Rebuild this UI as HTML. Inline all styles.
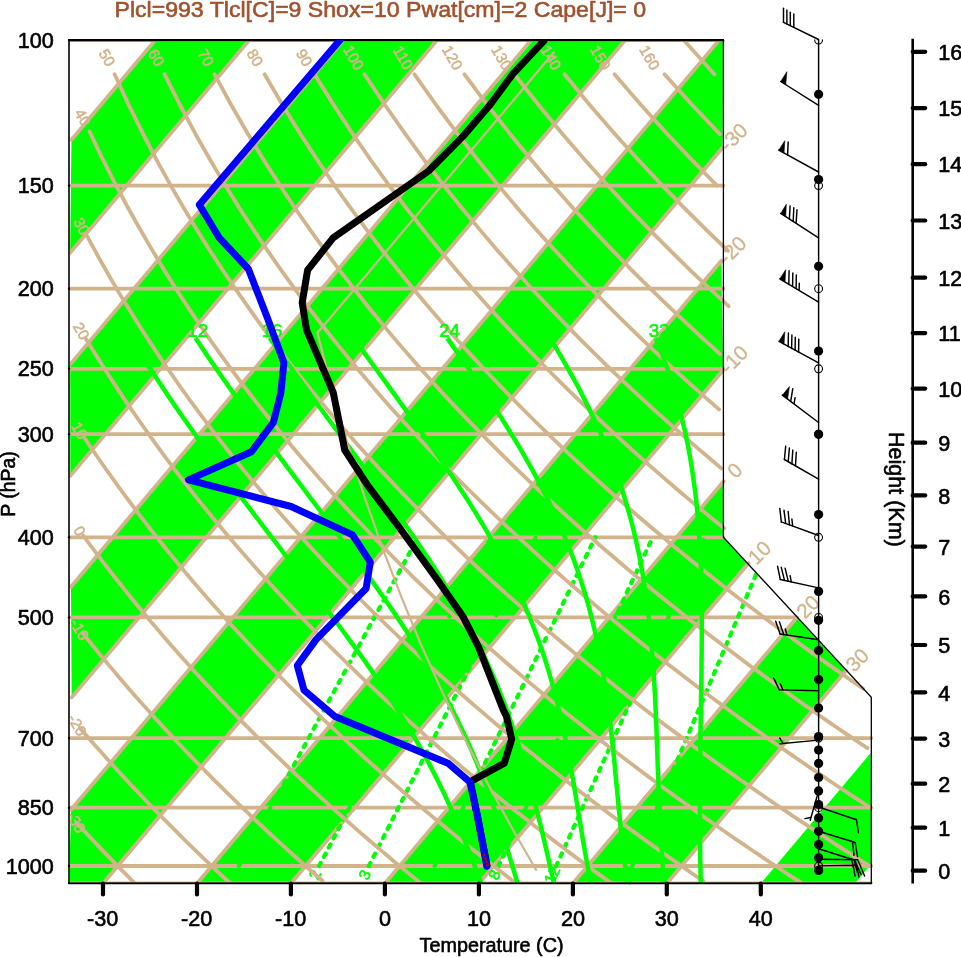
<!DOCTYPE html>
<html><head><meta charset="utf-8"><title>Skew-T</title>
<style>html,body{margin:0;padding:0;background:#fff}svg{display:block}text{font-family:"Liberation Sans",sans-serif}</style>
</head><body>
<svg width="961" height="957" viewBox="0 0 961 957">
<rect width="961" height="957" fill="#fff"/>
<defs><clipPath id="c"><polygon points="69.0,883.5 69.0,40.1 723.4,40.1 723.4,537.3 871.3,697.3 871.3,883.5 69.0,883.5"/></clipPath></defs>
<defs><clipPath id="v"><rect x="69.0" y="40.1" width="804.4" height="843.4"/></clipPath></defs>
<g clip-path="url(#c)">
<polygon points="71.5,139.7 155.3,40.1 249.3,40.1 70.1,252.9" fill="#00ff00"/>
<polygon points="70.2,364.4 343.3,40.1 437.2,40.1 70.3,475.9" fill="#00ff00"/>
<polygon points="71.0,586.7 531.2,40.1 625.2,40.1 71.7,697.4" fill="#00ff00"/>
<polygon points="71.0,809.8 719.2,40.1 723.4,40.1 722.5,147.8 103.0,883.5 69.0,883.5" fill="#00ff00"/>
<polygon points="197.0,883.5 721.3,260.8 723.1,370.2 290.9,883.5" fill="#00ff00"/>
<polygon points="384.9,883.5 723.7,481.2 723.4,537.3 748.5,563.3 478.9,883.5" fill="#00ff00"/>
<polygon points="572.9,883.5 796.9,617.4 846.1,670.6 666.8,883.5" fill="#00ff00"/>
<polygon points="760.8,883.5 870.6,753.1 871.6,863.5 854.8,883.5" fill="#00ff00"/>
</g>
<polyline points="71.5,139.7 155.3,40.1" fill="none" stroke="#d2b48c" stroke-width="3.8" stroke-linecap="round" clip-path="url(#v)"/>
<polyline points="70.1,252.9 249.3,40.1" fill="none" stroke="#d2b48c" stroke-width="3.8" stroke-linecap="round" clip-path="url(#v)"/>
<polyline points="70.2,364.4 343.3,40.1" fill="none" stroke="#d2b48c" stroke-width="3.8" stroke-linecap="round" clip-path="url(#v)"/>
<polyline points="70.3,475.9 437.2,40.1" fill="none" stroke="#d2b48c" stroke-width="3.8" stroke-linecap="round" clip-path="url(#v)"/>
<polyline points="71.0,586.7 531.2,40.1" fill="none" stroke="#d2b48c" stroke-width="3.8" stroke-linecap="round" clip-path="url(#v)"/>
<polyline points="71.7,697.4 625.2,40.1" fill="none" stroke="#d2b48c" stroke-width="3.8" stroke-linecap="round" clip-path="url(#v)"/>
<polyline points="71.0,809.8 719.2,40.1" fill="none" stroke="#d2b48c" stroke-width="3.8" stroke-linecap="round" clip-path="url(#v)"/>
<polyline points="103.0,883.5 722.5,147.8" fill="none" stroke="#d2b48c" stroke-width="3.8" stroke-linecap="round" clip-path="url(#v)"/>
<text x="733.4" y="144.2" font-size="20.5" fill="#d2b48c" text-anchor="middle" transform="rotate(-45.0 733.4 136.9)"  stroke="#d2b48c" stroke-width="0.3" stroke-linejoin="round">-30</text>
<polyline points="197.0,883.5 721.3,260.8" fill="none" stroke="#d2b48c" stroke-width="3.8" stroke-linecap="round" clip-path="url(#v)"/>
<text x="732.2" y="257.2" font-size="20.5" fill="#d2b48c" text-anchor="middle" transform="rotate(-45.0 732.2 249.9)"  stroke="#d2b48c" stroke-width="0.3" stroke-linejoin="round">-20</text>
<polyline points="290.9,883.5 723.1,370.2" fill="none" stroke="#d2b48c" stroke-width="3.8" stroke-linecap="round" clip-path="url(#v)"/>
<text x="734.0" y="366.6" font-size="20.5" fill="#d2b48c" text-anchor="middle" transform="rotate(-45.0 734.0 359.3)"  stroke="#d2b48c" stroke-width="0.3" stroke-linejoin="round">-10</text>
<polyline points="384.9,883.5 723.7,481.2" fill="none" stroke="#d2b48c" stroke-width="3.8" stroke-linecap="round" clip-path="url(#v)"/>
<text x="734.6" y="477.6" font-size="20.5" fill="#d2b48c" text-anchor="middle" transform="rotate(-45.0 734.6 470.3)"  stroke="#d2b48c" stroke-width="0.3" stroke-linejoin="round">0</text>
<polyline points="478.9,883.5 748.5,563.3" fill="none" stroke="#d2b48c" stroke-width="3.8" stroke-linecap="round" clip-path="url(#v)"/>
<text x="759.4" y="559.7" font-size="20.5" fill="#d2b48c" text-anchor="middle" transform="rotate(-45.0 759.4 552.4)"  stroke="#d2b48c" stroke-width="0.3" stroke-linejoin="round">10</text>
<polyline points="572.9,883.5 796.9,617.4" fill="none" stroke="#d2b48c" stroke-width="3.8" stroke-linecap="round" clip-path="url(#v)"/>
<text x="807.8" y="613.8" font-size="20.5" fill="#d2b48c" text-anchor="middle" transform="rotate(-45.0 807.8 606.5)"  stroke="#d2b48c" stroke-width="0.3" stroke-linejoin="round">20</text>
<polyline points="666.8,883.5 846.1,670.6" fill="none" stroke="#d2b48c" stroke-width="3.8" stroke-linecap="round" clip-path="url(#v)"/>
<text x="857.0" y="667.1" font-size="20.5" fill="#d2b48c" text-anchor="middle" transform="rotate(-45.0 857.0 659.7)"  stroke="#d2b48c" stroke-width="0.3" stroke-linejoin="round">30</text>
<polyline points="69.0,883.5 871.3,883.5" fill="none" stroke="#d2b48c" stroke-width="3.8" stroke-linecap="round" clip-path="url(#v)"/>
<polyline points="69.0,866.0 871.3,866.0" fill="none" stroke="#d2b48c" stroke-width="3.8" stroke-linecap="round" clip-path="url(#v)"/>
<polyline points="69.0,807.7 871.3,807.7" fill="none" stroke="#d2b48c" stroke-width="3.8" stroke-linecap="round" clip-path="url(#v)"/>
<polyline points="69.0,738.1 871.3,738.1" fill="none" stroke="#d2b48c" stroke-width="3.8" stroke-linecap="round" clip-path="url(#v)"/>
<polyline points="69.0,617.4 797.0,617.4" fill="none" stroke="#d2b48c" stroke-width="3.8" stroke-linecap="round" clip-path="url(#v)"/>
<polyline points="69.0,537.3 723.4,537.3" fill="none" stroke="#d2b48c" stroke-width="3.8" stroke-linecap="round" clip-path="url(#v)"/>
<polyline points="69.0,434.2 723.4,434.2" fill="none" stroke="#d2b48c" stroke-width="3.8" stroke-linecap="round" clip-path="url(#v)"/>
<polyline points="69.0,368.8 723.4,368.8" fill="none" stroke="#d2b48c" stroke-width="3.8" stroke-linecap="round" clip-path="url(#v)"/>
<polyline points="69.0,288.7 723.4,288.7" fill="none" stroke="#d2b48c" stroke-width="3.8" stroke-linecap="round" clip-path="url(#v)"/>
<polyline points="69.0,185.6 723.4,185.6" fill="none" stroke="#d2b48c" stroke-width="3.8" stroke-linecap="round" clip-path="url(#v)"/>
<polyline points="69.0,40.1 723.4,40.1" fill="none" stroke="#d2b48c" stroke-width="3.8" stroke-linecap="round" clip-path="url(#v)"/>
<polyline points="632.4,866.0 757.3,571.5" fill="none" stroke="#00ff00" stroke-width="4.2" stroke-dasharray="3.5 6.92" stroke-linecap="round"/>
<text x="628.1" y="880.4" font-size="15.5" fill="#00ff00" text-anchor="middle" transform="rotate(-65.0 628.1 874.8)"  stroke="#00ff00" stroke-width="0.6" stroke-linejoin="round">20</text>
<polyline points="556.2,866.0 704.5,537.3" fill="none" stroke="#00ff00" stroke-width="4.2" stroke-dasharray="3.5 6.92" stroke-linecap="round"/>
<text x="551.9" y="880.4" font-size="15.5" fill="#00ff00" text-anchor="middle" transform="rotate(-65.0 551.9 874.8)"  stroke="#00ff00" stroke-width="0.6" stroke-linejoin="round">12</text>
<polyline points="498.5,866.0 652.7,537.3" fill="none" stroke="#00ff00" stroke-width="4.2" stroke-dasharray="3.5 6.92" stroke-linecap="round"/>
<text x="494.2" y="880.4" font-size="15.5" fill="#00ff00" text-anchor="middle" transform="rotate(-65.0 494.2 874.8)"  stroke="#00ff00" stroke-width="0.6" stroke-linejoin="round">8</text>
<polyline points="434.7,866.0 595.3,537.3" fill="none" stroke="#00ff00" stroke-width="4.2" stroke-dasharray="3.5 6.92" stroke-linecap="round"/>
<text x="430.3" y="880.4" font-size="15.5" fill="#00ff00" text-anchor="middle" transform="rotate(-65.0 430.3 874.8)"  stroke="#00ff00" stroke-width="0.6" stroke-linejoin="round">5</text>
<polyline points="368.8,866.0 535.9,537.3" fill="none" stroke="#00ff00" stroke-width="4.2" stroke-dasharray="3.5 6.92" stroke-linecap="round"/>
<text x="364.5" y="880.4" font-size="15.5" fill="#00ff00" text-anchor="middle" transform="rotate(-65.0 364.5 874.8)"  stroke="#00ff00" stroke-width="0.6" stroke-linejoin="round">3</text>
<polyline points="319.1,866.0 490.9,537.3" fill="none" stroke="#00ff00" stroke-width="4.2" stroke-dasharray="3.5 6.92" stroke-linecap="round"/>
<text x="314.8" y="880.4" font-size="15.5" fill="#00ff00" text-anchor="middle" transform="rotate(-65.0 314.8 874.8)"  stroke="#00ff00" stroke-width="0.6" stroke-linejoin="round">2</text>
<polyline points="238.9,866.0 418.0,537.3" fill="none" stroke="#00ff00" stroke-width="4.2" stroke-dasharray="3.5 6.92" stroke-linecap="round"/>
<text x="234.6" y="880.4" font-size="15.5" fill="#00ff00" text-anchor="middle" transform="rotate(-65.0 234.6 874.8)"  stroke="#00ff00" stroke-width="0.6" stroke-linejoin="round">1</text>
<polyline points="78.0,824.2 81.7,828.2 85.4,832.2 89.0,836.1 92.7,840.0 96.3,843.8 99.9,847.6 103.5,851.4 107.1,855.1 110.6,858.8 114.2,862.4 117.7,866.0 121.2,869.6 124.7,873.1 128.2,876.6 131.6,880.1 135.1,883.5" fill="none" stroke="#d2b48c" stroke-width="3.8" stroke-linecap="round" stroke-linejoin="round" clip-path="url(#v)"/>
<text x="76.1" y="827.6" font-size="15.2" fill="#d2b48c" text-anchor="middle" transform="rotate(60.0 76.1 822.2)"  stroke="#d2b48c" stroke-width="0.6" stroke-linejoin="round">-30</text>
<polyline points="79.7,727.7 84.2,732.9 88.7,738.1 93.1,743.2 97.6,748.2 102.0,753.1 106.3,758.0 110.7,762.8 115.0,767.6 119.3,772.3 123.5,776.9 127.8,781.5 132.0,786.0 136.2,790.4 140.4,794.8 144.5,799.2 148.6,803.5 152.7,807.7 156.8,811.9 160.9,816.1 164.9,820.1 168.9,824.2 172.9,828.2 176.9,832.2 180.8,836.1 184.7,840.0 188.6,843.8 192.5,847.6 196.4,851.4 200.3,855.1 204.1,858.8 207.9,862.4 211.7,866.0 215.5,869.6 219.2,873.1 223.0,876.6 226.7,880.1 230.4,883.5" fill="none" stroke="#d2b48c" stroke-width="3.8" stroke-linecap="round" stroke-linejoin="round" clip-path="url(#v)"/>
<text x="77.4" y="730.5" font-size="15.2" fill="#d2b48c" text-anchor="middle" transform="rotate(60.0 77.4 725.0)"  stroke="#d2b48c" stroke-width="0.6" stroke-linejoin="round">-20</text>
<polyline points="82.4,632.8 87.9,639.6 93.3,646.3 98.6,652.9 103.9,659.3 109.2,665.6 114.5,671.9 119.7,678.0 124.8,684.0 129.9,689.9 135.0,695.7 140.1,701.4 145.1,707.0 150.1,712.6 155.0,718.1 160.0,723.4 164.8,728.7 169.7,733.9 174.5,739.1 179.3,744.2 184.1,749.2 188.8,754.1 193.5,759.0 198.1,763.8 202.8,768.5 207.4,773.2 212.0,777.8 216.5,782.4 221.1,786.9 225.6,791.3 230.0,795.7 234.5,800.0 238.9,804.3 243.3,808.6 247.7,812.7 252.0,816.9 256.4,821.0 260.7,825.0 264.9,829.0 269.2,833.0 273.4,836.9 277.6,840.7 281.8,844.6 286.0,848.4 290.1,852.1 294.2,855.8 298.3,859.5 302.4,863.1 306.5,866.7 310.5,870.3 314.5,873.8 318.5,877.3 322.5,880.8" fill="none" stroke="#d2b48c" stroke-width="3.8" stroke-linecap="round" stroke-linejoin="round" clip-path="url(#v)"/>
<text x="79.7" y="634.8" font-size="15.2" fill="#d2b48c" text-anchor="middle" transform="rotate(60.0 79.7 629.4)"  stroke="#d2b48c" stroke-width="0.6" stroke-linejoin="round">-10</text>
<polyline points="83.3,535.6 89.8,544.5 96.3,553.1 102.7,561.6 109.1,569.9 115.4,578.0 121.7,585.9 127.9,593.7 134.0,601.2 140.1,608.7 146.2,615.9 152.1,623.1 158.1,630.1 164.0,636.9 169.8,643.7 175.6,650.3 181.3,656.8 187.0,663.1 192.7,669.4 198.3,675.5 203.9,681.6 209.4,687.5 214.9,693.4 220.3,699.1 225.7,704.8 231.1,710.4 236.4,715.9 241.7,721.3 247.0,726.6 252.2,731.9 257.4,737.0 262.5,742.1 267.6,747.2 272.7,752.1 277.8,757.0 282.8,761.9 287.8,766.6 292.7,771.3 297.6,776.0 302.5,780.5 307.4,785.1 312.2,789.5 317.0,793.9 321.7,798.3 326.5,802.6 331.2,806.9 335.9,811.1 340.5,815.2 345.2,819.3 349.8,823.4 354.3,827.4 358.9,831.4 363.4,835.3 367.9,839.2 372.4,843.0 376.9,846.8 381.3,850.6 385.7,854.3 390.1,858.0 394.4,861.7 398.8,865.3 403.1,868.9 407.4,872.4 411.7,875.9 415.9,879.4 420.1,882.8" fill="none" stroke="#d2b48c" stroke-width="3.8" stroke-linecap="round" stroke-linejoin="round" clip-path="url(#v)"/>
<text x="80.0" y="536.5" font-size="15.2" fill="#d2b48c" text-anchor="middle" transform="rotate(60.0 80.0 531.0)"  stroke="#d2b48c" stroke-width="0.6" stroke-linejoin="round">0</text>
<polyline points="83.6,436.5 91.5,448.2 99.2,459.5 106.9,470.5 114.5,481.2 122.0,491.5 129.4,501.5 136.8,511.3 144.0,520.8 151.2,530.1 158.3,539.1 165.3,548.0 172.3,556.6 179.2,565.0 186.1,573.2 192.8,581.2 199.5,589.0 206.2,596.7 212.7,604.2 219.3,611.6 225.7,618.8 232.1,625.9 238.5,632.8 244.8,639.6 251.0,646.3 257.2,652.9 263.3,659.3 269.4,665.6 275.5,671.9 281.4,678.0 287.4,684.0 293.3,689.9 299.1,695.7 304.9,701.4 310.7,707.0 316.4,712.6 322.1,718.1 327.7,723.4 333.3,728.7 338.9,733.9 344.4,739.1 349.9,744.2 355.3,749.2 360.7,754.1 366.1,759.0 371.4,763.8 376.7,768.5 381.9,773.2 387.2,777.8 392.4,782.4 397.5,786.9 402.6,791.3 407.7,795.7 412.8,800.0 417.8,804.3 422.8,808.6 427.8,812.7 432.8,816.9 437.7,821.0 442.6,825.0 447.4,829.0 452.2,833.0 457.1,836.9 461.8,840.7 466.6,844.6 471.3,848.4 476.0,852.1 480.7,855.8 485.3,859.5 489.9,863.1 494.5,866.7 499.1,870.3 503.7,873.8 508.2,877.3 512.7,880.8" fill="none" stroke="#d2b48c" stroke-width="3.8" stroke-linecap="round" stroke-linejoin="round" clip-path="url(#v)"/>
<text x="79.7" y="436.0" font-size="15.2" fill="#d2b48c" text-anchor="middle" transform="rotate(60.0 79.7 430.6)"  stroke="#d2b48c" stroke-width="0.6" stroke-linejoin="round">10</text>
<polyline points="86.0,338.9 95.3,354.1 104.5,368.8 113.6,382.8 122.5,396.4 131.3,409.4 140.1,422.0 148.7,434.2 157.1,445.9 165.5,457.3 173.8,468.4 182.0,479.1 190.1,489.5 198.1,499.6 206.0,509.4 213.8,519.0 221.6,528.3 229.2,537.3 236.8,546.2 244.3,554.8 251.7,563.3 259.0,571.5 266.3,579.6 273.4,587.5 280.6,595.2 287.6,602.7 294.6,610.1 301.5,617.4 308.4,624.5 315.2,631.5 321.9,638.3 328.6,645.0 335.2,651.6 341.7,658.0 348.2,664.4 354.7,670.6 361.1,676.8 367.4,682.8 373.7,688.7 379.9,694.5 386.1,700.3 392.3,705.9 398.3,711.5 404.4,717.0 410.4,722.4 416.4,727.7 422.3,732.9 428.1,738.1 434.0,743.2 439.8,748.2 445.5,753.1 451.2,758.0 456.9,762.8 462.5,767.6 468.1,772.3 473.7,776.9 479.2,781.5 484.7,786.0 490.1,790.4 495.5,794.8 500.9,799.2 506.2,803.5 511.6,807.7 516.8,811.9 522.1,816.1 527.3,820.1 532.5,824.2 537.6,828.2 542.8,832.2 547.9,836.1 552.9,840.0 558.0,843.8 563.0,847.6 567.9,851.4 572.9,855.1 577.8,858.8 582.7,862.4 587.6,866.0 592.4,869.6 597.3,873.1 602.1,876.6 606.8,880.1 611.6,883.5" fill="none" stroke="#d2b48c" stroke-width="3.8" stroke-linecap="round" stroke-linejoin="round" clip-path="url(#v)"/>
<text x="81.3" y="336.4" font-size="15.2" fill="#d2b48c" text-anchor="middle" transform="rotate(60.0 81.3 331.0)"  stroke="#d2b48c" stroke-width="0.6" stroke-linejoin="round">20</text>
<polyline points="87.4,236.7 98.4,256.9 109.2,276.0 119.8,294.1 130.3,311.3 140.6,327.8 150.8,343.5 160.8,358.6 170.7,373.0 180.4,387.0 190.0,400.3 199.5,413.2 208.8,425.7 218.0,437.7 227.1,449.4 236.1,460.7 244.9,471.6 253.6,482.2 262.3,492.5 270.8,502.5 279.2,512.3 287.6,521.8 295.8,531.0 303.9,540.0 312.0,548.8 320.0,557.4 327.8,565.8 335.6,574.0 343.4,582.0 351.0,589.8 358.5,597.5 366.0,605.0 373.4,612.3 380.8,619.5 388.1,626.6 395.3,633.5 402.4,640.3 409.5,647.0 416.5,653.5 423.4,660.0 430.3,666.3 437.1,672.5 443.9,678.6 450.6,684.6 457.3,690.5 463.9,696.3 470.4,702.0 476.9,707.6 483.4,713.1 489.8,718.6 496.1,724.0 502.4,729.3 508.7,734.5 514.9,739.6 521.0,744.7 527.1,749.7 533.2,754.6 539.2,759.5 545.2,764.2 551.2,769.0 557.1,773.6 562.9,778.3 568.8,782.8 574.6,787.3 580.3,791.7 586.0,796.1 591.7,800.5 597.3,804.7 602.9,809.0 608.5,813.2 614.0,817.3 619.5,821.4 625.0,825.4 630.4,829.4 635.9,833.4 641.2,837.3 646.6,841.1 651.9,844.9 657.2,848.7 662.4,852.5 667.6,856.2 672.8,859.9 678.0,863.5 683.1,867.1 688.2,870.6 693.3,874.2 698.3,877.6 703.4,881.1" fill="none" stroke="#d2b48c" stroke-width="3.8" stroke-linecap="round" stroke-linejoin="round" clip-path="url(#v)"/>
<text x="81.8" y="231.6" font-size="15.2" fill="#d2b48c" text-anchor="middle" transform="rotate(60.0 81.8 226.2)"  stroke="#d2b48c" stroke-width="0.6" stroke-linejoin="round">30</text>
<polyline points="89.5,131.5 102.3,158.2 114.9,183.2 127.3,206.5 139.5,228.3 151.5,248.9 163.2,268.4 174.8,286.9 186.2,304.5 197.4,321.3 208.4,337.3 219.2,352.6 229.9,367.3 240.4,381.5 250.7,395.0 260.9,408.1 271.0,420.8 280.9,433.0 290.6,444.8 300.3,456.2 309.8,467.3 319.1,478.0 328.4,488.4 337.5,498.6 346.5,508.4 355.5,518.0 364.3,527.3 373.0,536.5 381.6,545.3 390.1,554.0 398.5,562.5 406.8,570.7 415.0,578.8 423.2,586.7 431.2,594.4 439.2,602.0 447.1,609.4 454.9,616.7 462.6,623.8 470.3,630.8 477.9,637.6 485.4,644.3 492.8,650.9 500.2,657.4 507.5,663.8 514.8,670.0 522.0,676.1 529.1,682.2 536.2,688.1 543.2,694.0 550.1,699.7 557.0,705.4 563.8,710.9 570.6,716.4 577.3,721.8 584.0,727.1 590.6,732.4 597.2,737.6 603.7,742.7 610.2,747.7 616.6,752.6 623.0,757.5 629.4,762.3 635.6,767.1 641.9,771.8 648.1,776.4 654.3,781.0 660.4,785.5 666.5,790.0 672.5,794.4 678.5,798.7 684.5,803.0 690.4,807.3 696.3,811.5 702.1,815.6 707.9,819.7 713.7,823.8 719.4,827.8 725.1,831.8 730.8,835.7 736.4,839.6 742.1,843.4 747.6,847.2 753.2,851.0 758.7,854.7 764.1,858.4 769.6,862.0 775.0,865.6 780.4,869.2 785.7,872.8 791.1,876.3 796.4,879.7 801.6,883.2" fill="none" stroke="#d2b48c" stroke-width="3.8" stroke-linecap="round" stroke-linejoin="round" clip-path="url(#v)"/>
<text x="83.0" y="122.7" font-size="15.2" fill="#d2b48c" text-anchor="middle" transform="rotate(60.0 83.0 117.3)"  stroke="#d2b48c" stroke-width="0.6" stroke-linejoin="round">40</text>
<polyline points="114.6,74.3 129.0,105.5 143.2,134.2 157.1,160.8 170.8,185.6 184.2,208.7 197.3,230.4 210.2,250.9 222.8,270.3 235.3,288.7 247.5,306.2 259.4,322.9 271.2,338.9 282.8,354.1 294.2,368.8 305.4,382.8 316.4,396.4 327.2,409.4 337.9,422.0 348.5,434.2 358.8,445.9 369.1,457.3 379.1,468.4 389.1,479.1 398.9,489.5 408.6,499.6 418.2,509.4 427.6,519.0 436.9,528.3 446.1,537.3 455.2,546.2 464.2,554.8 473.1,563.3 481.9,571.5 490.6,579.6 499.2,587.5 507.7,595.2 516.2,602.7 524.5,610.1 532.7,617.4 540.9,624.5 549.0,631.5 557.0,638.3 564.9,645.0 572.8,651.6 580.6,658.0 588.3,664.4 595.9,670.6 603.5,676.8 611.0,682.8 618.4,688.7 625.8,694.5 633.1,700.3 640.4,705.9 647.6,711.5 654.7,717.0 661.8,722.4 668.8,727.7 675.8,732.9 682.7,738.1 689.6,743.2 696.4,748.2 703.2,753.1 709.9,758.0 716.5,762.8 723.2,767.6 729.7,772.3 736.2,776.9 742.7,781.5 749.2,786.0 755.5,790.4 761.9,794.8 768.2,799.2 774.5,803.5 780.7,807.7 786.9,811.9 793.0,816.1 799.1,820.1 805.2,824.2 811.2,828.2 817.2,832.2 823.1,836.1 829.1,840.0 834.9,843.8 840.8,847.6 846.6,851.4 852.4,855.1 858.1,858.8 863.8,862.4 869.5,866.0" fill="none" stroke="#d2b48c" stroke-width="3.8" stroke-linecap="round" stroke-linejoin="round" clip-path="url(#v)"/>
<text x="107.3" y="63.1" font-size="15.2" fill="#d2b48c" text-anchor="middle" transform="rotate(60.0 107.3 57.6)"  stroke="#d2b48c" stroke-width="0.6" stroke-linejoin="round">50</text>
<polyline points="164.6,74.3 180.3,105.5 195.6,134.2 210.7,160.8 225.4,185.6 239.8,208.7 253.9,230.4 267.7,250.9 281.3,270.3 294.6,288.7 307.6,306.2 320.4,322.9 332.9,338.9 345.3,354.1 357.4,368.8 369.3,382.8 381.0,396.4 392.5,409.4 403.9,422.0 415.1,434.2 426.1,445.9 436.9,457.3 447.6,468.4 458.1,479.1 468.5,489.5 478.8,499.6 488.9,509.4 498.9,519.0 508.7,528.3 518.5,537.3 528.1,546.2 537.6,554.8 547.0,563.3 556.2,571.5 565.4,579.6 574.5,587.5 583.5,595.2 592.3,602.7 601.1,610.1 609.8,617.4 618.4,624.5 626.9,631.5 635.4,638.3 643.7,645.0 652.0,651.6 660.2,658.0 668.3,664.4 676.3,670.6 684.3,676.8 692.2,682.8 700.0,688.7 707.8,694.5 715.5,700.3 723.1,705.9 730.7,711.5 738.2,717.0 745.6,722.4 753.0,727.7 760.3,732.9 767.6,738.1 774.8,743.2 782.0,748.2 789.1,753.1 796.1,758.0 803.1,762.8 810.0,767.6 816.9,772.3 823.8,776.9 830.6,781.5 837.3,786.0 844.0,790.4 850.7,794.8 857.3,799.2 863.9,803.5 870.4,807.7" fill="none" stroke="#d2b48c" stroke-width="3.8" stroke-linecap="round" stroke-linejoin="round" clip-path="url(#v)"/>
<text x="156.6" y="63.1" font-size="15.2" fill="#d2b48c" text-anchor="middle" transform="rotate(60.0 156.6 57.6)"  stroke="#d2b48c" stroke-width="0.6" stroke-linejoin="round">60</text>
<polyline points="214.6,74.3 231.5,105.5 248.1,134.2 264.2,160.8 280.0,185.6 295.4,208.7 310.5,230.4 325.3,250.9 339.7,270.3 353.9,288.7 367.7,306.2 381.3,322.9 394.7,338.9 407.8,354.1 420.6,368.8 433.2,382.8 445.6,396.4 457.8,409.4 469.8,422.0 481.7,434.2 493.3,445.9 504.7,457.3 516.0,468.4 527.1,479.1 538.1,489.5 548.9,499.6 559.6,509.4 570.1,519.0 580.5,528.3 590.8,537.3 600.9,546.2 610.9,554.8 620.8,563.3 630.5,571.5 640.2,579.6 649.7,587.5 659.2,595.2 668.5,602.7 677.8,610.1 686.9,617.4 695.9,624.5 704.9,631.5 713.7,638.3 722.5,645.0 731.2,651.6 739.8,658.0 748.3,664.4 756.8,670.6 765.1,676.8 773.4,682.8 781.6,688.7 789.8,694.5 797.8,700.3 805.8,705.9 813.8,711.5 821.6,717.0 829.4,722.4 837.2,727.7 844.8,732.9 852.5,738.1 860.0,743.2 867.5,748.2" fill="none" stroke="#d2b48c" stroke-width="3.8" stroke-linecap="round" stroke-linejoin="round" clip-path="url(#v)"/>
<text x="206.0" y="63.1" font-size="15.2" fill="#d2b48c" text-anchor="middle" transform="rotate(60.0 206.0 57.6)"  stroke="#d2b48c" stroke-width="0.6" stroke-linejoin="round">70</text>
<polyline points="264.6,74.3 282.8,105.5 300.5,134.2 317.8,160.8 334.6,185.6 351.1,208.7 367.1,230.4 382.8,250.9 398.2,270.3 413.2,288.7 427.9,306.2 442.3,322.9 456.4,338.9 470.2,354.1 483.8,368.8 497.2,382.8 510.3,396.4 523.1,409.4 535.8,422.0 548.3,434.2 560.5,445.9 572.6,457.3 584.5,468.4 596.2,479.1 607.7,489.5 619.1,499.6 630.3,509.4 641.4,519.0 652.3,528.3 663.1,537.3 673.7,546.2 684.2,554.8 694.6,563.3 704.9,571.5 715.0,579.6 725.0,587.5 734.9,595.2 744.7,602.7 754.4,610.1 764.0,617.4 773.5,624.5 782.8,631.5 792.1,638.3 801.3,645.0 810.4,651.6 819.4,658.0 828.3,664.4 837.2,670.6 845.9,676.8 854.6,682.8 863.2,688.7" fill="none" stroke="#d2b48c" stroke-width="3.8" stroke-linecap="round" stroke-linejoin="round" clip-path="url(#v)"/>
<text x="255.3" y="63.1" font-size="15.2" fill="#d2b48c" text-anchor="middle" transform="rotate(60.0 255.3 57.6)"  stroke="#d2b48c" stroke-width="0.6" stroke-linejoin="round">80</text>
<polyline points="314.5,74.3 334.0,105.5 352.9,134.2 371.3,160.8 389.3,185.6 406.7,208.7 423.8,230.4 440.4,250.9 456.6,270.3 472.5,288.7 488.0,306.2 503.2,322.9 518.1,338.9 532.7,354.1 547.0,368.8 561.1,382.8 574.9,396.4 588.4,409.4 601.8,422.0 614.9,434.2 627.7,445.9 640.4,457.3 652.9,468.4 665.2,479.1 677.3,489.5 689.3,499.6 701.0,509.4 712.6,519.0 724.1,528.3" fill="none" stroke="#d2b48c" stroke-width="3.8" stroke-linecap="round" stroke-linejoin="round" clip-path="url(#v)"/>
<text x="304.6" y="63.1" font-size="15.2" fill="#d2b48c" text-anchor="middle" transform="rotate(60.0 304.6 57.6)"  stroke="#d2b48c" stroke-width="0.6" stroke-linejoin="round">90</text>
<polyline points="364.5,74.3 385.3,105.5 405.4,134.2 424.9,160.8 443.9,185.6 462.4,208.7 480.4,230.4 497.9,250.9 515.1,270.3 531.8,288.7 548.2,306.2 564.2,322.9 579.8,338.9 595.2,354.1 610.2,368.8 625.0,382.8 639.5,396.4 653.7,409.4 667.7,422.0 681.5,434.2 695.0,445.9 708.3,457.3 721.3,468.4" fill="none" stroke="#d2b48c" stroke-width="3.8" stroke-linecap="round" stroke-linejoin="round" clip-path="url(#v)"/>
<text x="353.9" y="63.1" font-size="15.2" fill="#d2b48c" text-anchor="middle" transform="rotate(60.0 353.9 57.6)"  stroke="#d2b48c" stroke-width="0.6" stroke-linejoin="round">100</text>
<polyline points="414.5,74.3 436.5,105.5 457.8,134.2 478.5,160.8 498.5,185.6 518.0,208.7 537.0,230.4 555.5,250.9 573.5,270.3 591.1,288.7 608.3,306.2 625.1,322.9 641.6,338.9 657.7,354.1 673.5,368.8 688.9,382.8 704.1,396.4 719.0,409.4" fill="none" stroke="#d2b48c" stroke-width="3.8" stroke-linecap="round" stroke-linejoin="round" clip-path="url(#v)"/>
<text x="403.3" y="63.1" font-size="15.2" fill="#d2b48c" text-anchor="middle" transform="rotate(60.0 403.3 57.6)"  stroke="#d2b48c" stroke-width="0.6" stroke-linejoin="round">110</text>
<polyline points="464.5,74.3 487.7,105.5 510.2,134.2 532.0,160.8 553.1,185.6 573.6,208.7 593.6,230.4 613.0,250.9 631.9,270.3 650.4,288.7 668.4,306.2 686.1,322.9 703.3,338.9 720.2,354.1" fill="none" stroke="#d2b48c" stroke-width="3.8" stroke-linecap="round" stroke-linejoin="round" clip-path="url(#v)"/>
<text x="452.6" y="63.1" font-size="15.2" fill="#d2b48c" text-anchor="middle" transform="rotate(60.0 452.6 57.6)"  stroke="#d2b48c" stroke-width="0.6" stroke-linejoin="round">120</text>
<polyline points="514.5,74.3 539.0,105.5 562.7,134.2 585.6,160.8 607.8,185.6 629.3,208.7 650.2,230.4 670.6,250.9 690.4,270.3 709.7,288.7 728.6,306.2" fill="none" stroke="#d2b48c" stroke-width="3.8" stroke-linecap="round" stroke-linejoin="round" clip-path="url(#v)"/>
<text x="501.9" y="63.1" font-size="15.2" fill="#d2b48c" text-anchor="middle" transform="rotate(60.0 501.9 57.6)"  stroke="#d2b48c" stroke-width="0.6" stroke-linejoin="round">130</text>
<polyline points="564.5,74.3 590.2,105.5 615.1,134.2 639.1,160.8 662.4,185.6 684.9,208.7 706.8,230.4 728.1,250.9" fill="none" stroke="#d2b48c" stroke-width="3.8" stroke-linecap="round" stroke-linejoin="round" clip-path="url(#v)"/>
<text x="551.2" y="63.1" font-size="15.2" fill="#d2b48c" text-anchor="middle" transform="rotate(60.0 551.2 57.6)"  stroke="#d2b48c" stroke-width="0.6" stroke-linejoin="round">140</text>
<polyline points="614.5,74.3 641.5,105.5 667.5,134.2 692.7,160.8 717.0,185.6" fill="none" stroke="#d2b48c" stroke-width="3.8" stroke-linecap="round" stroke-linejoin="round" clip-path="url(#v)"/>
<text x="600.6" y="63.1" font-size="15.2" fill="#d2b48c" text-anchor="middle" transform="rotate(60.0 600.6 57.6)"  stroke="#d2b48c" stroke-width="0.6" stroke-linejoin="round">150</text>
<polyline points="664.5,74.3 692.7,105.5 720.0,134.2" fill="none" stroke="#d2b48c" stroke-width="3.8" stroke-linecap="round" stroke-linejoin="round" clip-path="url(#v)"/>
<text x="649.9" y="63.1" font-size="15.2" fill="#d2b48c" text-anchor="middle" transform="rotate(60.0 649.9 57.6)"  stroke="#d2b48c" stroke-width="0.6" stroke-linejoin="round">160</text>
<polyline points="683.7,40.1 714.4,74.3" fill="none" stroke="#d2b48c" stroke-width="3.8" stroke-linecap="round" stroke-linejoin="round" clip-path="url(#v)"/>
<g clip-path="url(#c)">
<polyline points="655.9,338.1 662.2,354.1 667.5,368.8 672.1,382.8 676.1,396.4 679.7,409.4 682.8,422.0 685.6,434.2 688.0,445.9 690.1,457.3 691.9,468.4 693.4,479.1 694.9,489.5 696.1,499.6 697.1,509.4 697.9,519.0 698.7,528.3 699.3,537.3 699.9,546.2 700.3,554.8 700.7,563.3 701.0,571.5 701.2,579.6 701.4,587.5 701.6,595.2 701.7,602.7 701.8,610.1 701.8,617.4 701.8,624.5 701.8,631.5 701.8,638.3 701.7,645.0 701.7,651.6 701.6,658.0 701.5,664.4 701.5,670.6 701.4,676.8 701.3,682.8 701.2,688.7 701.1,694.5 701.0,700.3 700.9,705.9 700.8,711.5 700.7,717.0 700.7,722.4 700.6,727.7 700.5,732.9 700.5,738.1 700.5,743.2 700.4,748.2 700.4,753.1 700.3,758.0 700.3,762.8 700.3,767.6 700.2,772.3 700.2,776.9 700.2,781.5 700.1,786.0 700.1,790.4 700.1,794.8 700.1,799.2 700.0,803.5 700.0,807.7 700.0,811.9 700.0,816.1 700.0,820.1 700.0,824.2 700.0,828.2 700.0,832.2 700.0,836.1 700.0,840.0 700.0,843.8 700.1,847.6 700.1,851.4 700.2,855.1 700.2,858.8 700.3,862.4 700.4,866.0 700.4,869.6 700.5,873.1 700.6,876.6 700.7,880.1 700.8,883.5 700.9,886.9 701.1,890.3 701.2,893.6 701.3,896.9 701.4,900.2" fill="none" stroke="#00ff00" stroke-width="4.5" />
</g>
<text x="659.0" y="336.7" font-size="18.6" fill="#00ff00" text-anchor="middle"  stroke="#00ff00" stroke-width="0.6" stroke-linejoin="round">32</text>
<g clip-path="url(#c)">
<polyline points="550.1,338.1 559.7,354.1 568.1,368.8 575.9,382.8 583.0,396.4 589.5,409.4 595.5,422.0 601.0,434.2 606.0,445.9 610.6,457.3 614.7,468.4 618.5,479.1 622.0,489.5 625.1,499.6 628.0,509.4 630.7,519.0 633.1,528.3 635.2,537.3 637.2,546.2 639.1,554.8 640.7,563.3 642.2,571.5 643.5,579.6 644.8,587.5 645.9,595.2 647.0,602.7 647.9,610.1 648.8,617.4 649.5,624.5 650.3,631.5 651.0,638.3 651.6,645.0 652.1,651.6 652.6,658.0 653.1,664.4 653.5,670.6 653.9,676.8 654.2,682.8 654.6,688.7 654.9,694.5 655.2,700.3 655.4,705.9 655.7,711.5 655.9,717.0 656.1,722.4 656.4,727.7 656.6,732.9 656.8,738.1 656.9,743.2 657.1,748.2 657.3,753.1 657.5,758.0 657.6,762.8 657.8,767.6 658.0,772.3 658.2,776.9 658.4,781.5 658.6,786.0 658.8,790.4 659.1,794.8 659.3,799.2 659.5,803.5 659.7,807.7 659.9,811.9 660.1,816.1 660.3,820.1 660.5,824.2 660.6,828.2 660.8,832.2 661.0,836.1 661.3,840.0 661.4,843.8 661.7,847.6 661.9,851.4 662.1,855.1 662.3,858.8 662.5,862.4 662.8,866.0 663.0,869.6 663.3,873.1 663.5,876.6 663.8,880.1 664.0,883.5 664.3,886.9 664.6,890.3 664.8,893.6 665.1,896.9 665.4,900.2" fill="none" stroke="#00ff00" stroke-width="4.5" />
</g>
<text x="552.5" y="336.7" font-size="18.6" fill="#00ff00" text-anchor="middle"  stroke="#00ff00" stroke-width="0.6" stroke-linejoin="round">28</text>
<g clip-path="url(#c)">
<polyline points="447.3,338.1 458.5,354.1 468.7,368.8 478.3,382.8 487.3,396.4 495.9,409.4 503.9,422.0 511.5,434.2 518.6,445.9 525.2,457.3 531.5,468.4 537.3,479.1 542.8,489.5 547.9,499.6 552.6,509.4 557.1,519.0 561.2,528.3 565.0,537.3 568.6,546.2 571.9,554.8 575.0,563.3 577.9,571.5 580.6,579.6 583.1,587.5 585.5,595.2 587.6,602.7 589.7,610.1 591.5,617.4 593.3,624.5 594.9,631.5 596.5,638.3 597.9,645.0 599.2,651.6 600.5,658.0 601.6,664.4 602.7,670.6 603.8,676.8 604.7,682.8 605.6,688.7 606.5,694.5 607.3,700.3 608.1,705.9 608.8,711.5 609.5,717.0 610.1,722.4 610.8,727.7 611.3,732.9 611.9,738.1 612.5,743.2 613.0,748.2 613.5,753.1 614.0,758.0 614.5,762.8 614.9,767.6 615.3,772.3 615.8,776.9 616.2,781.5 616.7,786.0 617.1,790.4 617.5,794.8 617.9,799.2 618.3,803.5 618.7,807.7 619.1,811.9 619.6,816.1 620.0,820.1 620.4,824.2 620.8,828.2 621.3,832.2 621.7,836.1 622.1,840.0 622.6,843.8 623.0,847.6 623.4,851.4 623.9,855.1 624.3,858.8 624.7,862.4 625.2,866.0 625.6,869.6 626.1,873.1 626.5,876.6 627.0,880.1 627.4,883.5 627.9,886.9 628.3,890.3 628.8,893.6 629.3,896.9 629.7,900.2" fill="none" stroke="#00ff00" stroke-width="4.5" />
</g>
<text x="449.5" y="336.7" font-size="18.6" fill="#00ff00" text-anchor="middle"  stroke="#00ff00" stroke-width="0.6" stroke-linejoin="round">24</text>
<g clip-path="url(#c)">
<polyline points="353.6,338.1 365.2,354.1 375.8,368.8 386.1,382.8 395.9,396.4 405.3,409.4 414.3,422.0 423.0,434.2 431.2,445.9 439.2,457.3 446.7,468.4 453.9,479.1 460.7,489.5 467.3,499.6 473.5,509.4 479.4,519.0 485.0,528.3 490.3,537.3 495.3,546.2 500.0,554.8 504.5,563.3 508.7,571.5 512.7,579.6 516.5,587.5 520.1,595.2 523.5,602.7 526.7,610.1 529.7,617.4 532.5,624.5 535.2,631.5 537.8,638.3 540.1,645.0 542.4,651.6 544.6,658.0 546.6,664.4 548.5,670.6 550.3,676.8 552.0,682.8 553.7,688.7 555.2,694.5 556.7,700.3 558.1,705.9 559.4,711.5 560.7,717.0 561.9,722.4 563.1,727.7 564.2,732.9 565.3,738.1 566.3,743.2 567.3,748.2 568.2,753.1 569.1,758.0 570.0,762.8 570.8,767.6 571.7,772.3 572.5,776.9 573.3,781.5 574.1,786.0 574.8,790.4 575.5,794.8 576.3,799.2 577.0,803.5 577.7,807.7 578.3,811.9 579.0,816.1 579.7,820.1 580.4,824.2 581.0,828.2 581.7,832.2 582.3,836.1 582.9,840.0 583.6,843.8 584.3,847.6 584.9,851.4 585.6,855.1 586.3,858.8 586.9,862.4 587.6,866.0 588.3,869.6 588.9,873.1 589.5,876.6 590.2,880.1 590.8,883.5 591.4,886.9 592.0,890.3 592.6,893.6 593.2,896.9 593.8,900.2" fill="none" stroke="#00ff00" stroke-width="4.5" />
</g>
<text x="355.7" y="336.7" font-size="18.6" fill="#00ff00" text-anchor="middle"  stroke="#00ff00" stroke-width="0.6" stroke-linejoin="round">20</text>
<g clip-path="url(#c)">
<polyline points="269.8,338.1 281.1,354.1 291.6,368.8 301.8,382.8 311.6,396.4 321.2,409.4 330.5,422.0 339.5,434.2 348.1,445.9 356.5,457.3 364.6,468.4 372.5,479.1 380.0,489.5 387.4,499.6 394.4,509.4 401.2,519.0 407.7,528.3 414.0,537.3 420.0,546.2 425.8,554.8 431.4,563.3 436.7,571.5 441.8,579.6 446.7,587.5 451.3,595.2 455.8,602.7 460.0,610.1 464.1,617.4 468.0,624.5 471.7,631.5 475.3,638.3 478.7,645.0 481.9,651.6 485.0,658.0 488.0,664.4 490.8,670.6 493.5,676.8 496.0,682.8 498.5,688.7 500.9,694.5 503.1,700.3 505.3,705.9 507.3,711.5 509.3,717.0 511.2,722.4 513.0,727.7 514.8,732.9 516.5,738.1 518.1,743.2 519.7,748.2 521.2,753.1 522.6,758.0 524.0,762.8 525.4,767.6 526.7,772.3 528.0,776.9 529.3,781.5 530.5,786.0 531.7,790.4 532.8,794.8 533.9,799.2 535.0,803.5 536.1,807.7 537.2,811.9 538.2,816.1 539.2,820.1 540.3,824.2 541.2,828.2 542.2,832.2 543.1,836.1 544.1,840.0 544.9,843.8 545.8,847.6 546.7,851.4 547.5,855.1 548.4,858.8 549.2,862.4 550.0,866.0 550.8,869.6 551.6,873.1 552.4,876.6 553.2,880.1 554.0,883.5 554.8,886.9 555.6,890.3 556.3,893.6 557.1,896.9 557.9,900.2" fill="none" stroke="#00ff00" stroke-width="4.5" />
</g>
<text x="272.0" y="336.7" font-size="18.6" fill="#00ff00" text-anchor="middle"  stroke="#00ff00" stroke-width="0.6" stroke-linejoin="round">16</text>
<g clip-path="url(#c)">
<polyline points="195.4,338.1 206.2,354.1 216.2,368.8 226.0,382.8 235.6,396.4 244.9,409.4 254.0,422.0 262.9,434.2 271.6,445.9 280.0,457.3 288.2,468.4 296.3,479.1 304.1,489.5 311.7,499.6 319.1,509.4 326.2,519.0 333.2,528.3 340.0,537.3 346.6,546.2 353.0,554.8 359.1,563.3 365.1,571.5 371.0,579.6 376.6,587.5 382.0,595.2 387.3,602.7 392.4,610.1 397.3,617.4 402.0,624.5 406.6,631.5 411.0,638.3 415.3,645.0 419.4,651.6 423.4,658.0 427.2,664.4 430.9,670.6 434.4,676.8 437.8,682.8 441.1,688.7 444.3,694.5 447.3,700.3 450.3,705.9 453.1,711.5 455.9,717.0 458.5,722.4 461.1,727.7 463.6,732.9 466.0,738.1 468.3,743.2 470.5,748.2 472.7,753.1 474.7,758.0 476.8,762.8 478.7,767.6 480.6,772.3 482.5,776.9 484.3,781.5 486.1,786.0 487.8,790.4 489.4,794.8 490.9,799.2 492.5,803.5 493.9,807.7 495.4,811.9 496.8,816.1 498.1,820.1 499.5,824.2 500.8,828.2 502.0,832.2 503.3,836.1 504.5,840.0 505.7,843.8 506.8,847.6 508.0,851.4 509.1,855.1 510.2,858.8 511.3,862.4 512.4,866.0 513.5,869.6 514.5,873.1 515.6,876.6 516.6,880.1 517.6,883.5 518.6,886.9 519.6,890.3 520.6,893.6 521.6,896.9 522.5,900.2" fill="none" stroke="#00ff00" stroke-width="4.5" />
</g>
<text x="197.7" y="336.7" font-size="18.6" fill="#00ff00" text-anchor="middle"  stroke="#00ff00" stroke-width="0.6" stroke-linejoin="round">12</text>
<g clip-path="url(#c)">
<polyline points="130.6,338.1 140.7,354.1 150.2,368.8 159.5,382.8 168.6,396.4 177.5,409.4 186.3,422.0 194.9,434.2 203.3,445.9 211.6,457.3 219.7,468.4 227.6,479.1 235.4,489.5 243.0,499.6 250.4,509.4 257.7,519.0 264.8,528.3 271.7,537.3 278.5,546.2 285.1,554.8 291.6,563.3 298.0,571.5 304.1,579.6 310.2,587.5 316.0,595.2 321.8,602.7 327.4,610.1 332.8,617.4 338.1,624.5 343.3,631.5 348.3,638.3 353.2,645.0 358.0,651.6 362.6,658.0 367.1,664.4 371.5,670.6 375.7,676.8 379.8,682.8 383.9,688.7 387.8,694.5 391.5,700.3 395.2,705.9 398.8,711.5 402.2,717.0 405.5,722.4 408.7,727.7 411.8,732.9 414.8,738.1 417.8,743.2 420.6,748.2 423.3,753.1 426.0,758.0 428.6,762.8 431.1,767.6 433.5,772.3 435.9,776.9 438.2,781.5 440.4,786.0 442.6,790.4 444.7,794.8 446.7,799.2 448.7,803.5 450.6,807.7 452.5,811.9 454.4,816.1 456.2,820.1 457.9,824.2 459.6,828.2 461.3,832.2 462.9,836.1 464.5,840.0 466.1,843.8 467.6,847.6 469.1,851.4 470.6,855.1 472.0,858.8 473.4,862.4 474.8,866.0 476.2,869.6 477.5,873.1 478.9,876.6 480.2,880.1 481.4,883.5 482.7,886.9 483.9,890.3 485.1,893.6 486.3,896.9 487.5,900.2" fill="none" stroke="#00ff00" stroke-width="4.5" />
</g>
<text x="133.0" y="336.7" font-size="18.6" fill="#00ff00" text-anchor="middle"  stroke="#00ff00" stroke-width="0.6" stroke-linejoin="round">8</text>
<polyline points="536.6,870.7 511.8,827.7 487.8,783.7 464.6,738.6 442.5,692.4 421.2,645.0 401.1,596.4 382.0,546.6 364.0,495.4 347.3,442.7 331.8,388.6 317.4,333.1 364.1,277.7 412.2,220.5 459.6,164.2 506.9,108.1 554.3,51.8" fill="none" stroke="#d2b48c" stroke-width="2.2" />
<polygon points="69.0,883.5 69.0,40.1 723.4,40.1 723.4,537.3 871.3,697.3 871.3,883.5 69.0,883.5" fill="none" stroke="#000" stroke-width="1.3"/>
<polyline points="69.0,883.2 69.0,40.1" fill="none" stroke="#333" stroke-width="1.9" />
<polyline points="68.0,40.1 724.0,40.1" fill="none" stroke="#000" stroke-width="2.1" />
<polyline points="68.0,883.2 871.9,883.2" fill="none" stroke="#000" stroke-width="1.6" />
<polyline points="103.0,883.5 103.0,894.5" fill="none" stroke="#000" stroke-width="4.2" stroke-linecap="round"/>
<text x="102.7" y="925.9" font-size="21.6" fill="#000" text-anchor="middle"  stroke="#000" stroke-width="0.6" stroke-linejoin="round">-30</text>
<polyline points="197.0,883.5 197.0,894.5" fill="none" stroke="#000" stroke-width="4.2" stroke-linecap="round"/>
<text x="196.7" y="925.9" font-size="21.6" fill="#000" text-anchor="middle"  stroke="#000" stroke-width="0.6" stroke-linejoin="round">-20</text>
<polyline points="290.9,883.5 290.9,894.5" fill="none" stroke="#000" stroke-width="4.2" stroke-linecap="round"/>
<text x="290.6" y="925.9" font-size="21.6" fill="#000" text-anchor="middle"  stroke="#000" stroke-width="0.6" stroke-linejoin="round">-10</text>
<polyline points="384.9,883.5 384.9,894.5" fill="none" stroke="#000" stroke-width="4.2" stroke-linecap="round"/>
<text x="384.9" y="925.9" font-size="21.6" fill="#000" text-anchor="middle"  stroke="#000" stroke-width="0.6" stroke-linejoin="round">0</text>
<polyline points="478.9,883.5 478.9,894.5" fill="none" stroke="#000" stroke-width="4.2" stroke-linecap="round"/>
<text x="478.9" y="925.9" font-size="21.6" fill="#000" text-anchor="middle"  stroke="#000" stroke-width="0.6" stroke-linejoin="round">10</text>
<polyline points="572.9,883.5 572.9,894.5" fill="none" stroke="#000" stroke-width="4.2" stroke-linecap="round"/>
<text x="572.9" y="925.9" font-size="21.6" fill="#000" text-anchor="middle"  stroke="#000" stroke-width="0.6" stroke-linejoin="round">20</text>
<polyline points="666.8,883.5 666.8,894.5" fill="none" stroke="#000" stroke-width="4.2" stroke-linecap="round"/>
<text x="666.8" y="925.9" font-size="21.6" fill="#000" text-anchor="middle"  stroke="#000" stroke-width="0.6" stroke-linejoin="round">30</text>
<polyline points="760.8,883.5 760.8,894.5" fill="none" stroke="#000" stroke-width="4.2" stroke-linecap="round"/>
<text x="760.8" y="925.9" font-size="21.6" fill="#000" text-anchor="middle"  stroke="#000" stroke-width="0.6" stroke-linejoin="round">40</text>
<text x="53.8" y="873.6" font-size="21.6" fill="#000" text-anchor="end"  stroke="#000" stroke-width="0.6" stroke-linejoin="round">1000</text>
<circle cx="69.0" cy="866.0" r="1.2" fill="#000"/>
<text x="53.8" y="815.3" font-size="21.6" fill="#000" text-anchor="end"  stroke="#000" stroke-width="0.6" stroke-linejoin="round">850</text>
<circle cx="69.0" cy="807.7" r="1.2" fill="#000"/>
<text x="53.8" y="745.7" font-size="21.6" fill="#000" text-anchor="end"  stroke="#000" stroke-width="0.6" stroke-linejoin="round">700</text>
<circle cx="69.0" cy="738.1" r="1.2" fill="#000"/>
<text x="53.8" y="625.0" font-size="21.6" fill="#000" text-anchor="end"  stroke="#000" stroke-width="0.6" stroke-linejoin="round">500</text>
<circle cx="69.0" cy="617.4" r="1.2" fill="#000"/>
<text x="53.8" y="545.0" font-size="21.6" fill="#000" text-anchor="end"  stroke="#000" stroke-width="0.6" stroke-linejoin="round">400</text>
<circle cx="69.0" cy="537.3" r="1.2" fill="#000"/>
<text x="53.8" y="441.8" font-size="21.6" fill="#000" text-anchor="end"  stroke="#000" stroke-width="0.6" stroke-linejoin="round">300</text>
<circle cx="69.0" cy="434.2" r="1.2" fill="#000"/>
<text x="53.8" y="376.4" font-size="21.6" fill="#000" text-anchor="end"  stroke="#000" stroke-width="0.6" stroke-linejoin="round">250</text>
<circle cx="69.0" cy="368.8" r="1.2" fill="#000"/>
<text x="53.8" y="296.4" font-size="21.6" fill="#000" text-anchor="end"  stroke="#000" stroke-width="0.6" stroke-linejoin="round">200</text>
<circle cx="69.0" cy="288.7" r="1.2" fill="#000"/>
<text x="53.8" y="193.2" font-size="21.6" fill="#000" text-anchor="end"  stroke="#000" stroke-width="0.6" stroke-linejoin="round">150</text>
<circle cx="69.0" cy="185.6" r="1.2" fill="#000"/>
<text x="53.8" y="47.8" font-size="21.6" fill="#000" text-anchor="end"  stroke="#000" stroke-width="0.6" stroke-linejoin="round">100</text>
<circle cx="69.0" cy="40.1" r="1.2" fill="#000"/>
<text x="491.6" y="952.0" font-size="19.4" fill="#000" text-anchor="middle" transform="translate(491.6 0) scale(1.02 1) translate(-491.6 0)"  stroke="#000" stroke-width="0.6" stroke-linejoin="round">Temperature (C)</text>
<text x="7.9" y="490.9" font-size="19.4" fill="#000" text-anchor="middle" transform="rotate(-90.0 7.9 484.0)"  stroke="#000" stroke-width="0.6" stroke-linejoin="round">P (hPa)</text>
<text x="380.3" y="17.0" font-size="22.0" fill="#a0522d" text-anchor="middle" transform="translate(380.3 0) scale(1.05 1) translate(-380.3 0)" xml:space="preserve" stroke="#a0522d" stroke-width="0.6" stroke-linejoin="round">Plcl=993 Tlcl[C]=9 Shox=10 Pwat[cm]=2 Cape[J]= 0</text>
<polyline points="912.7,38.8 912.7,883.5" fill="none" stroke="#000" stroke-width="2.6" />
<polyline points="912.7,870.7 925.2,870.7" fill="none" stroke="#000" stroke-width="4.2" stroke-linecap="round"/>
<text x="938.3" y="878.9" font-size="21.6" fill="#000" text-anchor="start"  stroke="#000" stroke-width="0.6" stroke-linejoin="round">0</text>
<polyline points="912.7,827.7 925.2,827.7" fill="none" stroke="#000" stroke-width="4.2" stroke-linecap="round"/>
<text x="938.3" y="835.8" font-size="21.6" fill="#000" text-anchor="start"  stroke="#000" stroke-width="0.6" stroke-linejoin="round">1</text>
<polyline points="912.7,783.7 925.2,783.7" fill="none" stroke="#000" stroke-width="4.2" stroke-linecap="round"/>
<text x="938.3" y="791.8" font-size="21.6" fill="#000" text-anchor="start"  stroke="#000" stroke-width="0.6" stroke-linejoin="round">2</text>
<polyline points="912.7,738.6 925.2,738.6" fill="none" stroke="#000" stroke-width="4.2" stroke-linecap="round"/>
<text x="938.3" y="746.7" font-size="21.6" fill="#000" text-anchor="start"  stroke="#000" stroke-width="0.6" stroke-linejoin="round">3</text>
<polyline points="912.7,692.4 925.2,692.4" fill="none" stroke="#000" stroke-width="4.2" stroke-linecap="round"/>
<text x="938.3" y="700.5" font-size="21.6" fill="#000" text-anchor="start"  stroke="#000" stroke-width="0.6" stroke-linejoin="round">4</text>
<polyline points="912.7,645.0 925.2,645.0" fill="none" stroke="#000" stroke-width="4.2" stroke-linecap="round"/>
<text x="938.3" y="653.2" font-size="21.6" fill="#000" text-anchor="start"  stroke="#000" stroke-width="0.6" stroke-linejoin="round">5</text>
<polyline points="912.7,596.4 925.2,596.4" fill="none" stroke="#000" stroke-width="4.2" stroke-linecap="round"/>
<text x="938.3" y="604.6" font-size="21.6" fill="#000" text-anchor="start"  stroke="#000" stroke-width="0.6" stroke-linejoin="round">6</text>
<polyline points="912.7,546.6 925.2,546.6" fill="none" stroke="#000" stroke-width="4.2" stroke-linecap="round"/>
<text x="938.3" y="554.7" font-size="21.6" fill="#000" text-anchor="start"  stroke="#000" stroke-width="0.6" stroke-linejoin="round">7</text>
<polyline points="912.7,495.4 925.2,495.4" fill="none" stroke="#000" stroke-width="4.2" stroke-linecap="round"/>
<text x="938.3" y="503.5" font-size="21.6" fill="#000" text-anchor="start"  stroke="#000" stroke-width="0.6" stroke-linejoin="round">8</text>
<polyline points="912.7,442.7 925.2,442.7" fill="none" stroke="#000" stroke-width="4.2" stroke-linecap="round"/>
<text x="938.3" y="450.9" font-size="21.6" fill="#000" text-anchor="start"  stroke="#000" stroke-width="0.6" stroke-linejoin="round">9</text>
<polyline points="912.7,388.6 925.2,388.6" fill="none" stroke="#000" stroke-width="4.2" stroke-linecap="round"/>
<text x="938.3" y="396.7" font-size="21.6" fill="#000" text-anchor="start"  stroke="#000" stroke-width="0.6" stroke-linejoin="round">10</text>
<polyline points="912.7,333.1 925.2,333.1" fill="none" stroke="#000" stroke-width="4.2" stroke-linecap="round"/>
<text x="938.3" y="341.2" font-size="21.6" fill="#000" text-anchor="start"  stroke="#000" stroke-width="0.6" stroke-linejoin="round">11</text>
<polyline points="912.7,277.7 925.2,277.7" fill="none" stroke="#000" stroke-width="4.2" stroke-linecap="round"/>
<text x="938.3" y="285.8" font-size="21.6" fill="#000" text-anchor="start"  stroke="#000" stroke-width="0.6" stroke-linejoin="round">12</text>
<polyline points="912.7,220.5 925.2,220.5" fill="none" stroke="#000" stroke-width="4.2" stroke-linecap="round"/>
<text x="938.3" y="228.6" font-size="21.6" fill="#000" text-anchor="start"  stroke="#000" stroke-width="0.6" stroke-linejoin="round">13</text>
<polyline points="912.7,164.2 925.2,164.2" fill="none" stroke="#000" stroke-width="4.2" stroke-linecap="round"/>
<text x="938.3" y="172.4" font-size="21.6" fill="#000" text-anchor="start"  stroke="#000" stroke-width="0.6" stroke-linejoin="round">14</text>
<polyline points="912.7,108.1 925.2,108.1" fill="none" stroke="#000" stroke-width="4.2" stroke-linecap="round"/>
<text x="938.3" y="116.2" font-size="21.6" fill="#000" text-anchor="start"  stroke="#000" stroke-width="0.6" stroke-linejoin="round">15</text>
<polyline points="912.7,51.8 925.2,51.8" fill="none" stroke="#000" stroke-width="4.2" stroke-linecap="round"/>
<text x="938.3" y="59.9" font-size="21.6" fill="#000" text-anchor="start"  stroke="#000" stroke-width="0.6" stroke-linejoin="round">16</text>
<text x="896.2" y="497.1" font-size="21.5" fill="#000" text-anchor="middle" transform="rotate(90.0 896.2 489.4)"  stroke="#000" stroke-width="0.6" stroke-linejoin="round">Height (Km)</text>
<g clip-path="url(#c)">
<polyline points="545.2,39.4 512.9,73.9 488.8,106.3 462.7,136.6 428.6,171.0 333.1,237.8 307.6,270.2 302.2,302.6 306.5,329.8 333.3,392.7 344.8,450.2 367.8,485.7 401.2,530.0 437.5,580.0 462.6,615.9 478.5,646.9 503.5,710.5 506.4,716.1 511.7,739.1 504.3,763.1 470.3,781.6 477.6,816.9 487.3,866.8" fill="none" stroke="#000" stroke-width="7" stroke-linejoin="round"/>
<polyline points="340.5,39.4 199.3,204.8 219.1,237.6 248.4,269.0 268.2,320.0 283.9,362.8 280.8,393.1 273.4,422.4 251.5,451.7 188.5,479.9 291.1,506.5 352.5,534.9 370.3,562.1 366.1,588.5 316.0,639.6 297.3,665.5 304.0,690.2 334.5,716.2 448.5,763.6 470.0,782.2 477.6,816.9 486.8,866.2" fill="none" stroke="#0000ff" stroke-width="7" stroke-linejoin="round" stroke-linecap="round"/>
</g>
<polyline points="483.5,853.6 488.0,866.4" fill="none" stroke="#a50a0a" stroke-width="2.6" stroke-dasharray="3 0.6"/>
<polyline points="818.6,39.9 818.6,870.4" fill="none" stroke="#000" stroke-width="1.45" stroke-linecap="round" stroke-linejoin="round"/>
<g clip-path="url(#wc)"><defs><clipPath id="wc"><rect x="700" y="39.4" width="261" height="900"/></clipPath></defs>
<circle cx="818.6" cy="40.1" r="3.9" fill="none" stroke="#000" stroke-width="1.1"/>
<circle cx="818.6" cy="185.6" r="3.9" fill="none" stroke="#000" stroke-width="1.1"/>
<circle cx="818.6" cy="288.7" r="3.9" fill="none" stroke="#000" stroke-width="1.1"/>
<circle cx="818.6" cy="368.8" r="3.9" fill="none" stroke="#000" stroke-width="1.1"/>
<circle cx="818.6" cy="434.2" r="3.9" fill="none" stroke="#000" stroke-width="1.1"/>
<circle cx="818.6" cy="537.3" r="3.9" fill="none" stroke="#000" stroke-width="1.1"/>
<circle cx="818.6" cy="617.4" r="3.9" fill="none" stroke="#000" stroke-width="1.1"/>
<circle cx="818.6" cy="738.1" r="3.9" fill="none" stroke="#000" stroke-width="1.1"/>
<circle cx="818.6" cy="807.7" r="3.9" fill="none" stroke="#000" stroke-width="1.1"/>
<circle cx="818.6" cy="866.0" r="3.9" fill="none" stroke="#000" stroke-width="1.1"/>
</g>
<circle cx="818.6" cy="94.3" r="4.6" fill="#000"/>
<circle cx="818.6" cy="179.6" r="4.6" fill="#000"/>
<circle cx="818.6" cy="266.3" r="4.6" fill="#000"/>
<circle cx="818.6" cy="351.0" r="4.6" fill="#000"/>
<circle cx="818.6" cy="434.3" r="4.6" fill="#000"/>
<circle cx="818.6" cy="514.6" r="4.6" fill="#000"/>
<circle cx="818.6" cy="591.4" r="4.6" fill="#000"/>
<circle cx="818.6" cy="620.3" r="4.6" fill="#000"/>
<circle cx="818.6" cy="650.5" r="4.6" fill="#000"/>
<circle cx="818.6" cy="679.5" r="4.6" fill="#000"/>
<circle cx="818.6" cy="708.1" r="4.6" fill="#000"/>
<circle cx="818.6" cy="736.6" r="4.6" fill="#000"/>
<circle cx="818.6" cy="750.1" r="4.6" fill="#000"/>
<circle cx="818.6" cy="763.4" r="4.6" fill="#000"/>
<circle cx="818.6" cy="777.5" r="4.6" fill="#000"/>
<circle cx="818.6" cy="790.9" r="4.6" fill="#000"/>
<circle cx="818.6" cy="804.5" r="4.6" fill="#000"/>
<circle cx="818.6" cy="817.9" r="4.6" fill="#000"/>
<circle cx="818.6" cy="831.3" r="4.6" fill="#000"/>
<circle cx="818.6" cy="844.6" r="4.6" fill="#000"/>
<circle cx="818.6" cy="857.8" r="4.6" fill="#000"/>
<circle cx="818.6" cy="870.4" r="4.6" fill="#000"/>
<polyline points="818.6,39.5 783.5,22.3" fill="none" stroke="#000" stroke-width="1.45" stroke-linecap="round" stroke-linejoin="round"/>
<polyline points="783.5,22.3 783.5,8.2" fill="none" stroke="#000" stroke-width="1.45" stroke-linecap="round" stroke-linejoin="round"/>
<polyline points="786.9,24.0 786.9,10.0" fill="none" stroke="#000" stroke-width="1.45" stroke-linecap="round" stroke-linejoin="round"/>
<polyline points="790.3,25.6 790.3,12.2" fill="none" stroke="#000" stroke-width="1.45" stroke-linecap="round" stroke-linejoin="round"/>
<polyline points="793.8,27.3 793.8,14.0" fill="none" stroke="#000" stroke-width="1.45" stroke-linecap="round" stroke-linejoin="round"/>
<polyline points="818.6,105.3 780.7,81.5" fill="none" stroke="#000" stroke-width="1.45" stroke-linecap="round" stroke-linejoin="round"/>
<polygon points="780.7,81.5 786.9,71.7 785.7,84.6" fill="#000" stroke="#000" stroke-width="0.6" stroke-linejoin="round"/>
<polyline points="818.6,172.0 778.8,150.1" fill="none" stroke="#000" stroke-width="1.45" stroke-linecap="round" stroke-linejoin="round"/>
<polygon points="778.8,150.1 784.8,140.7 784.0,153.0" fill="#000" stroke="#000" stroke-width="0.6" stroke-linejoin="round"/>
<polyline points="787.6,154.9 788.2,141.9" fill="none" stroke="#000" stroke-width="1.45" stroke-linecap="round" stroke-linejoin="round"/>
<polyline points="818.6,237.9 780.7,213.4" fill="none" stroke="#000" stroke-width="1.45" stroke-linecap="round" stroke-linejoin="round"/>
<polygon points="780.7,213.4 786.3,204.3 785.7,216.6" fill="#000" stroke="#000" stroke-width="0.6" stroke-linejoin="round"/>
<polyline points="789.4,219.1 790.1,205.9" fill="none" stroke="#000" stroke-width="1.45" stroke-linecap="round" stroke-linejoin="round"/>
<polyline points="793.2,221.3 793.8,207.8" fill="none" stroke="#000" stroke-width="1.45" stroke-linecap="round" stroke-linejoin="round"/>
<polyline points="796.1,223.1 797.0,209.7" fill="none" stroke="#000" stroke-width="1.45" stroke-linecap="round" stroke-linejoin="round"/>
<polyline points="818.6,302.1 779.8,278.9" fill="none" stroke="#000" stroke-width="1.45" stroke-linecap="round" stroke-linejoin="round"/>
<polygon points="779.8,278.9 785.7,269.7 785.0,282.0" fill="#000" stroke="#000" stroke-width="0.6" stroke-linejoin="round"/>
<polyline points="788.8,284.1 789.1,270.7" fill="none" stroke="#000" stroke-width="1.45" stroke-linecap="round" stroke-linejoin="round"/>
<polyline points="792.6,286.4 792.8,272.9" fill="none" stroke="#000" stroke-width="1.45" stroke-linecap="round" stroke-linejoin="round"/>
<polyline points="796.1,288.4 796.3,274.9" fill="none" stroke="#000" stroke-width="1.45" stroke-linecap="round" stroke-linejoin="round"/>
<polyline points="799.1,290.2 799.3,283.3" fill="none" stroke="#000" stroke-width="1.45" stroke-linecap="round" stroke-linejoin="round"/>
<polyline points="818.6,362.8 779.0,341.3" fill="none" stroke="#000" stroke-width="1.45" stroke-linecap="round" stroke-linejoin="round"/>
<polygon points="779.0,341.3 784.8,331.8 784.0,344.3" fill="#000" stroke="#000" stroke-width="0.6" stroke-linejoin="round"/>
<polyline points="788.2,346.6 788.4,333.0" fill="none" stroke="#000" stroke-width="1.45" stroke-linecap="round" stroke-linejoin="round"/>
<polyline points="791.6,348.6 791.9,335.0" fill="none" stroke="#000" stroke-width="1.45" stroke-linecap="round" stroke-linejoin="round"/>
<polyline points="795.1,350.3 795.3,337.2" fill="none" stroke="#000" stroke-width="1.45" stroke-linecap="round" stroke-linejoin="round"/>
<polyline points="798.6,352.2 798.8,339.1" fill="none" stroke="#000" stroke-width="1.45" stroke-linecap="round" stroke-linejoin="round"/>
<polyline points="818.6,422.5 782.3,395.2" fill="none" stroke="#000" stroke-width="1.45" stroke-linecap="round" stroke-linejoin="round"/>
<polygon points="782.3,395.2 789.4,386.6 787.6,398.9" fill="#000" stroke="#000" stroke-width="0.6" stroke-linejoin="round"/>
<polyline points="790.7,401.4 792.8,388.7" fill="none" stroke="#000" stroke-width="1.45" stroke-linecap="round" stroke-linejoin="round"/>
<polyline points="794.1,403.3 795.1,397.7" fill="none" stroke="#000" stroke-width="1.45" stroke-linecap="round" stroke-linejoin="round"/>
<polyline points="818.6,479.2 784.4,459.5" fill="none" stroke="#000" stroke-width="1.45" stroke-linecap="round" stroke-linejoin="round"/>
<polyline points="784.4,459.5 785.7,446.1" fill="none" stroke="#000" stroke-width="1.45" stroke-linecap="round" stroke-linejoin="round"/>
<polyline points="788.2,461.6 789.4,447.9" fill="none" stroke="#000" stroke-width="1.45" stroke-linecap="round" stroke-linejoin="round"/>
<polyline points="791.9,463.9 792.8,450.1" fill="none" stroke="#000" stroke-width="1.45" stroke-linecap="round" stroke-linejoin="round"/>
<polyline points="795.5,465.7 796.3,452.3" fill="none" stroke="#000" stroke-width="1.45" stroke-linecap="round" stroke-linejoin="round"/>
<polyline points="818.6,535.5 781.3,521.9" fill="none" stroke="#000" stroke-width="1.45" stroke-linecap="round" stroke-linejoin="round"/>
<polyline points="781.3,521.9 779.8,508.4" fill="none" stroke="#000" stroke-width="1.45" stroke-linecap="round" stroke-linejoin="round"/>
<polyline points="785.7,523.4 784.0,510.3" fill="none" stroke="#000" stroke-width="1.45" stroke-linecap="round" stroke-linejoin="round"/>
<polyline points="789.4,524.7 788.2,511.5" fill="none" stroke="#000" stroke-width="1.45" stroke-linecap="round" stroke-linejoin="round"/>
<polyline points="792.6,525.7 791.9,519.0" fill="none" stroke="#000" stroke-width="1.45" stroke-linecap="round" stroke-linejoin="round"/>
<polyline points="818.6,587.9 780.3,579.5" fill="none" stroke="#000" stroke-width="1.45" stroke-linecap="round" stroke-linejoin="round"/>
<polyline points="780.3,579.5 777.6,566.3" fill="none" stroke="#000" stroke-width="1.45" stroke-linecap="round" stroke-linejoin="round"/>
<polyline points="784.5,580.4 781.3,567.3" fill="none" stroke="#000" stroke-width="1.45" stroke-linecap="round" stroke-linejoin="round"/>
<polyline points="788.2,581.1 785.1,568.2" fill="none" stroke="#000" stroke-width="1.45" stroke-linecap="round" stroke-linejoin="round"/>
<polyline points="791.3,581.8 790.1,575.7" fill="none" stroke="#000" stroke-width="1.45" stroke-linecap="round" stroke-linejoin="round"/>
<polyline points="818.6,639.7 780.1,634.0" fill="none" stroke="#000" stroke-width="1.45" stroke-linecap="round" stroke-linejoin="round"/>
<polyline points="780.1,634.0 775.7,621.3" fill="none" stroke="#000" stroke-width="1.45" stroke-linecap="round" stroke-linejoin="round"/>
<polyline points="783.8,634.7 779.4,621.8" fill="none" stroke="#000" stroke-width="1.45" stroke-linecap="round" stroke-linejoin="round"/>
<polyline points="787.0,635.0 785.3,629.0" fill="none" stroke="#000" stroke-width="1.45" stroke-linecap="round" stroke-linejoin="round"/>
<polyline points="818.6,690.8 779.4,689.9" fill="none" stroke="#000" stroke-width="1.45" stroke-linecap="round" stroke-linejoin="round"/>
<polyline points="779.4,689.9 773.5,677.9" fill="none" stroke="#000" stroke-width="1.45" stroke-linecap="round" stroke-linejoin="round"/>
<polyline points="783.0,690.0 780.3,683.9" fill="none" stroke="#000" stroke-width="1.45" stroke-linecap="round" stroke-linejoin="round"/>
<polyline points="818.6,740.1 780.1,743.8" fill="none" stroke="#000" stroke-width="1.45" stroke-linecap="round" stroke-linejoin="round"/>
<polyline points="782.8,743.4 779.8,738.1" fill="none" stroke="#000" stroke-width="1.45" stroke-linecap="round" stroke-linejoin="round"/>
<polyline points="818.6,791.0 810.2,820.3" fill="none" stroke="#000" stroke-width="1.45" stroke-linecap="round" stroke-linejoin="round"/>
<polyline points="810.5,817.5 804.9,818.6" fill="none" stroke="#000" stroke-width="1.45" stroke-linecap="round" stroke-linejoin="round"/>
<polyline points="818.6,807.0 856.5,819.8 858.4,832.7" fill="none" stroke="#000" stroke-width="1.45" stroke-linecap="round" stroke-linejoin="round"/>
<polyline points="818.6,831.2 855.2,842.5 857.5,856.5" fill="none" stroke="#000" stroke-width="1.45" stroke-linecap="round" stroke-linejoin="round"/>
<polyline points="852.5,841.6 854.0,855.3" fill="none" stroke="#000" stroke-width="1.45" stroke-linecap="round" stroke-linejoin="round"/>
<polyline points="818.6,848.7 854.0,860.0 857.5,872.5" fill="none" stroke="#000" stroke-width="1.45" stroke-linecap="round" stroke-linejoin="round"/>
<polyline points="851.5,859.2 854.5,871.5" fill="none" stroke="#000" stroke-width="1.45" stroke-linecap="round" stroke-linejoin="round"/>
<polyline points="818.6,859.3 857.7,859.7 864.6,876.0" fill="none" stroke="#000" stroke-width="1.45" stroke-linecap="round" stroke-linejoin="round"/>
<polyline points="854.5,859.7 861.0,874.5" fill="none" stroke="#000" stroke-width="1.45" stroke-linecap="round" stroke-linejoin="round"/>
<polyline points="818.6,865.9 856.5,865.3 859.0,877.0" fill="none" stroke="#000" stroke-width="1.45" stroke-linecap="round" stroke-linejoin="round"/>
<polyline points="853.0,865.3 855.0,876.0" fill="none" stroke="#000" stroke-width="1.45" stroke-linecap="round" stroke-linejoin="round"/>
</svg>
</body></html>
